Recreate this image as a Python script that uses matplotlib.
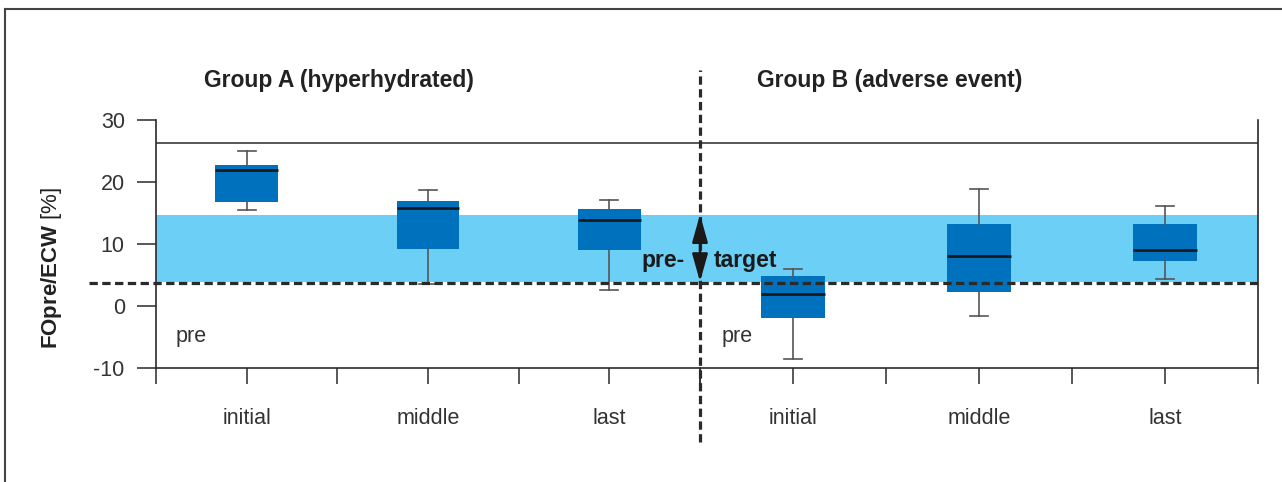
import matplotlib
matplotlib.use("Agg")
import matplotlib.pyplot as plt
from matplotlib.lines import Line2D
from matplotlib.transforms import blended_transform_factory

plt.rcParams["font.family"] = ["Liberation Sans", "DejaVu Sans"]
plt.rcParams["mathtext.fontset"] = "custom"
plt.rcParams["mathtext.rm"] = "Liberation Sans"
plt.rcParams["mathtext.bf"] = "Liberation Sans:bold"
plt.rcParams["axes.unicode_minus"] = False

# ---- data -------------------------------------------------------------
groups = ["Group A (hyperhydrated)", "Group B (adverse event)"]
timepoints = ["initial", "middle", "last"]

a_whislo = [15.4, 3.6, 2.6]
a_q1 = [16.8, 9.2, 9.0]
a_med = [21.8, 15.8, 13.9]
a_q3 = [22.6, 16.9, 15.6]
a_whishi = [25.0, 18.7, 17.1]

b_whislo = [-8.5, -1.6, 4.3]
b_q1 = [-2.0, 2.3, 7.3]
b_med = [1.9, 8.0, 9.0]
b_q3 = [4.8, 13.2, 13.2]
b_whishi = [6.0, 18.8, 16.1]

target_low, target_high = 3.9, 14.7   # pre-target range
pre_line = 3.7                        # lower limit of the pre-target range
upper_line = 26.2

y_ticks = [-10, 0, 10, 20, 30]

# ---- styling ------------------------------------------------------------
BOX = "#0071BC"
BAND = "#6CCFF5"
DARK = "#2a2a2a"
GREY = "#555555"
TXT = "#333333"

W, H = 1282, 482
fig = plt.figure(figsize=(W / 100, H / 100), dpi=100)

bottom = 1 - 368 / H
height = 248.5 / H
axA = fig.add_axes([156 / W, bottom, 544 / W, height])
axB = fig.add_axes([700 / W, bottom, 558 / W, height])

positions = [1, 3, 5]


def stats(lo, q1, med, q3, hi):
    return [dict(whislo=l, q1=a, med=m, q3=b, whishi=h, fliers=[])
            for l, a, m, b, h in zip(lo, q1, med, q3, hi)]


data = [stats(a_whislo, a_q1, a_med, a_q3, a_whishi),
        stats(b_whislo, b_q1, b_med, b_q3, b_whishi)]

for ax, st in zip([axA, axB], data):
    ax.set_xlim(0, 6)
    ax.set_ylim(-10, 30)
    ax.axhspan(target_low, target_high, color=BAND, lw=0, zorder=0)
    ax.axhline(upper_line, color=DARK, lw=1.1, zorder=1)
    ax.bxp(st, positions=positions, widths=0.69, showfliers=False,
           patch_artist=True, capwidths=0.2,
           boxprops=dict(facecolor=BOX, edgecolor="none", lw=0),
           medianprops=dict(color="#1a1a1a", lw=2.0),
           whiskerprops=dict(color=GREY, lw=1.2),
           capprops=dict(color=GREY, lw=1.2),
           zorder=2)
    ax.set_xticks(range(7))
    ax.set_xticklabels(["", timepoints[0], "", timepoints[1], "", timepoints[2], ""])
    ax.tick_params(axis="x", direction="out", length=11.5, width=1.1,
                   color=DARK, labelsize=15.5, labelcolor=TXT, pad=17)
    ax.spines["top"].set_visible(False)
    for s in ax.spines.values():
        s.set_linewidth(1.2)
        s.set_color(DARK)
    ax.set_facecolor("none")

axA.spines["right"].set_visible(False)
axB.spines["left"].set_visible(False)
axA.set_yticks(y_ticks)
axA.tick_params(axis="y", direction="out", length=13.5, width=1.1,
                color=DARK, labelsize=15.5, labelcolor=TXT, pad=9)
axB.tick_params(axis="y", left=False, labelleft=False)

# pre-target lower limit, dashed, running from the label area to the right edge
dash = dict(color=DARK, lw=2.3, dashes=(2.6, 1.4), zorder=4, clip_on=False)
axA.plot([-0.74, 6], [pre_line, pre_line], **dash)
axB.plot([0, 6], [pre_line, pre_line], **dash)

# vertical group divider
tr = blended_transform_factory(axB.transData, axB.transAxes)
axB.plot([0, 0], [-0.298, 1.199], transform=tr, color=DARK, lw=2.3,
         dashes=(2.6, 1.4), clip_on=False, zorder=5)

# double arrow showing the pre-target range
axB.annotate("", xy=(0, target_low), xytext=(0, target_high),
             arrowprops=dict(arrowstyle="<|-|>,head_length=0.85,head_width=0.24",
                             mutation_scale=20, lw=1.8, color="#1a1a1a",
                             shrinkA=0, shrinkB=0), zorder=6,
             annotation_clip=False)
axA.text(5.83, 6.3, "pre-", ha="right", va="baseline", fontsize=16.5,
         fontweight="bold", color="#1a1a1a", zorder=6)
axB.text(0.15, 6.3, "target", ha="left", va="baseline", fontsize=16.5,
         fontweight="bold", color="#1a1a1a", zorder=6)

axA.text(0.215, -5.75, "pre", ha="left", va="baseline", fontsize=15.5, color=TXT)
axB.text(0.23, -5.75, "pre", ha="left", va="baseline", fontsize=15.5, color=TXT)

# group headings
fig.text(339 / W, 1 - 87.5 / H, groups[0], ha="center", va="baseline",
         fontsize=16.5, fontweight="bold", color="#222222")
fig.text(889.5 / W, 1 - 87.5 / H, groups[1], ha="center", va="baseline",
         fontsize=16.5, fontweight="bold", color="#222222")

# y-axis label
fig.text(52 / W, 1 - 268 / H, r"$\mathbf{FOpre/ECW}$ [%]", rotation=90,
         ha="center", va="center", fontsize=16, color="#222222")

# outer frame (left and top edges)
fig.add_artist(Line2D([5 / W, 5 / W], [0, 1 - 9 / H], transform=fig.transFigure,
                      color="#444444", lw=1.5))
fig.add_artist(Line2D([5 / W, 1], [1 - 9 / H, 1 - 9 / H], transform=fig.transFigure,
                      color="#444444", lw=1.5))

fig.savefig("out.png", dpi=100, facecolor="white")
